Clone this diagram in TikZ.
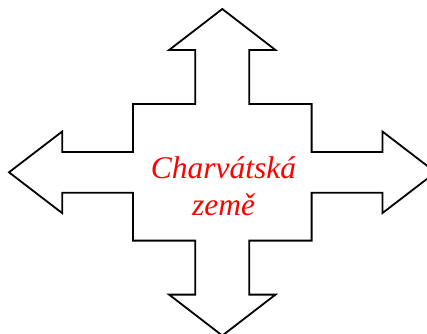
\documentclass[tikz,border=0pt]{standalone}
\usepackage{fontspec}
\setmainfont{Liberation Serif}
\begin{document}
\begin{tikzpicture}[x=1pt,y=-1pt,
  arrowshape/.style={draw=black,line width=1.8pt,line join=miter,fill=white},
  label/.style={text=red,font=\fontsize{31.5}{36.7}\selectfont\itshape,align=center,inner sep=0pt}]
\useasboundingbox (0,0) rectangle (427,333);
\begin{scope}
\clip (0,0) rectangle (427,333);
\draw[arrowshape] (222.3,9) -- (275.5,50) -- (249.3,50) -- (249.3,104) -- (311.6,104) -- (311.6,151.9) -- (382.4,151.9) -- (382.4,131.5) -- (435.6,172.3) -- (382.4,213.1) -- (382.4,192.7) -- (311.6,192.7) -- (311.6,240.6) -- (249.3,240.6) -- (249.3,294.6) -- (275.5,294.6) -- (222.3,335.6) -- (169.1,294.6) -- (195.3,294.6) -- (195.3,240.6) -- (133,240.6) -- (133,192.7) -- (62.2,192.7) -- (62.2,213.1) -- (9,172.3) -- (62.2,131.5) -- (62.2,151.9) -- (133,151.9) -- (133,104) -- (195.3,104) -- (195.3,50) -- (169.1,50) -- cycle;
\end{scope}
\node[label] (t) at (223.5,186) {Charvátská\\země};
\end{tikzpicture}
\end{document}
